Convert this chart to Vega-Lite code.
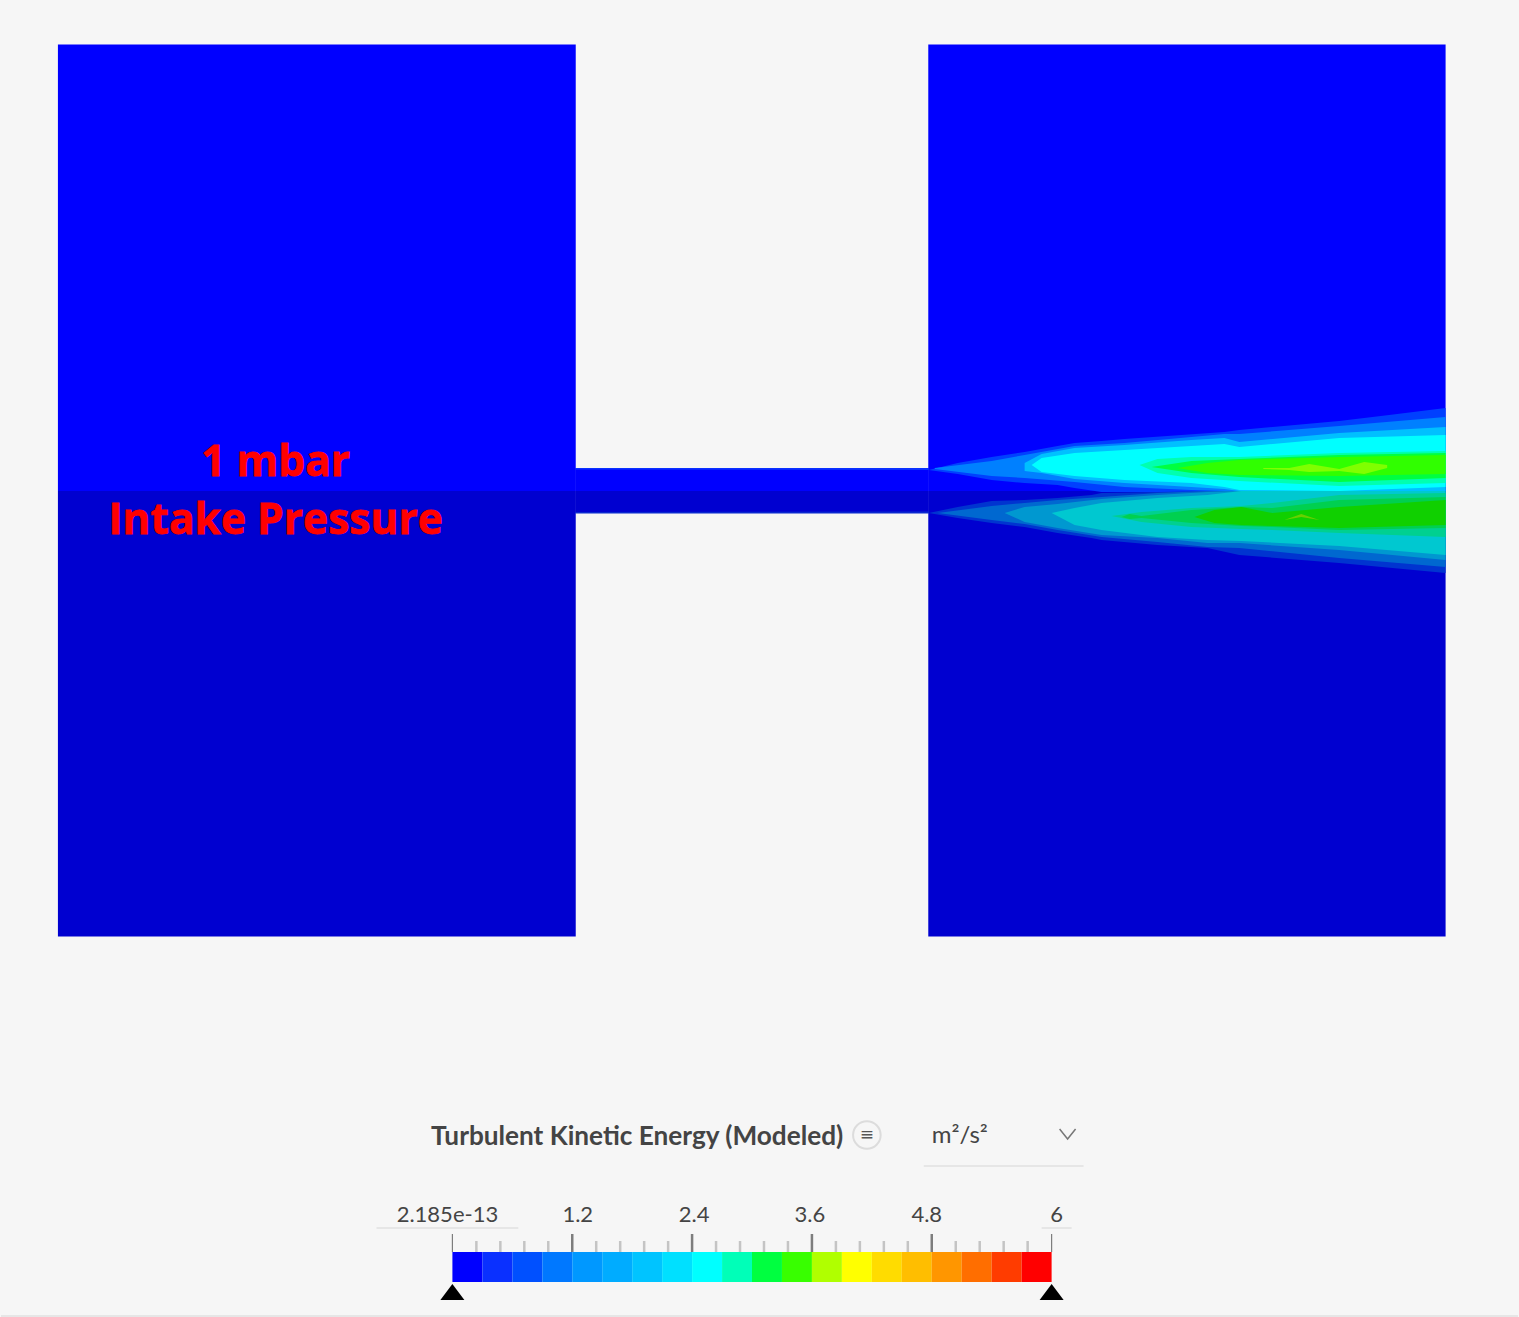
{"$schema":"https://vega.github.io/schema/vega-lite/v6.json","width":1519,"height":1317,"padding":0,"autosize":{"type":"fit","contains":"padding"},"background":"#f6f6f6","config":{"view":{"stroke":null}},"resolve":{"scale":{"x":"independent","color":"independent"}},
"datasets":{"geom":[
{"b":"inletHi","x":57,"y":44.5,"y2":491},{"b":"inletHi","x":575.5,"y":44.5,"y2":491},
{"b":"inletLo","x":57,"y":491,"y2":936.5},{"b":"inletLo","x":575.5,"y":491,"y2":936.5},
{"b":"slotHi","x":575,"y":468,"y2":491},{"b":"slotHi","x":929,"y":468,"y2":491},
{"b":"slotLo","x":575,"y":491,"y2":513},{"b":"slotLo","x":929,"y":491,"y2":513},
{"b":"outHi","x":928.5,"y":44.5,"y2":491},{"b":"outHi","x":1446.5,"y":44.5,"y2":491},
{"b":"outLo","x":928.5,"y":491,"y2":936.5},{"b":"outLo","x":1446.5,"y":491,"y2":936.5},
{"b":"wallHi","x":575,"y":468,"y2":469.5},{"b":"wallHi","x":929,"y":468,"y2":470},
{"b":"wallLo","x":575,"y":512,"y2":513.5},{"b":"wallLo","x":929,"y":511.5,"y2":513.5},
{"b":"U1","x":929,"y":470,"y2":470},{"b":"U1","x":958,"y":463,"y2":474},{"b":"U1","x":992,"y":457,"y2":480},{"b":"U1","x":1025,"y":452,"y2":483},{"b":"U1","x":1058,"y":446,"y2":485},{"b":"U1","x":1075,"y":443,"y2":488},{"b":"U1","x":1102,"y":441,"y2":492},{"b":"U1","x":1125,"y":439,"y2":492},{"b":"U1","x":1225,"y":432,"y2":492},{"b":"U1","x":1240,"y":430,"y2":492},{"b":"U1","x":1340,"y":421,"y2":492},{"b":"U1","x":1390,"y":415,"y2":492},{"b":"U1","x":1446.5,"y":408,"y2":492},
{"b":"U2","x":935,"y":468,"y2":469},{"b":"U2","x":992,"y":461,"y2":476},{"b":"U2","x":1025,"y":455,"y2":478},{"b":"U2","x":1075,"y":446,"y2":482},{"b":"U2","x":1125,"y":443,"y2":487},{"b":"U2","x":1192,"y":437,"y2":490},{"b":"U2","x":1225,"y":434,"y2":491},{"b":"U2","x":1240,"y":434,"y2":491},{"b":"U2","x":1340,"y":426,"y2":491},{"b":"U2","x":1446.5,"y":417,"y2":491},
{"b":"U3","x":1025,"y":463,"y2":471},{"b":"U3","x":1042,"y":454,"y2":473},{"b":"U3","x":1075,"y":448,"y2":479},{"b":"U3","x":1125,"y":445,"y2":483},{"b":"U3","x":1192,"y":440,"y2":487},{"b":"U3","x":1225,"y":438,"y2":489},{"b":"U3","x":1240,"y":442,"y2":491},{"b":"U3","x":1340,"y":433,"y2":491},{"b":"U3","x":1446.5,"y":427,"y2":491},
{"b":"U4","x":1032,"y":465,"y2":465},{"b":"U4","x":1042,"y":458,"y2":472},{"b":"U4","x":1075,"y":453,"y2":476},{"b":"U4","x":1125,"y":450,"y2":480},{"b":"U4","x":1192,"y":446,"y2":483},{"b":"U4","x":1225,"y":444,"y2":487},{"b":"U4","x":1240,"y":447,"y2":490},{"b":"U4","x":1340,"y":438,"y2":491},{"b":"U4","x":1446.5,"y":435,"y2":487},
{"b":"U5","x":1140,"y":465,"y2":465},{"b":"U5","x":1158,"y":459,"y2":473},{"b":"U5","x":1192,"y":457,"y2":478},{"b":"U5","x":1240,"y":457,"y2":481},{"b":"U5","x":1340,"y":453,"y2":486},{"b":"U5","x":1446.5,"y":451,"y2":483},
{"b":"U6","x":1152,"y":467,"y2":467},{"b":"U6","x":1192,"y":461,"y2":473},{"b":"U6","x":1240,"y":459,"y2":477},{"b":"U6","x":1340,"y":455,"y2":482},{"b":"U6","x":1446.5,"y":453,"y2":478},
{"b":"U7","x":1178,"y":468,"y2":468},{"b":"U7","x":1208,"y":463,"y2":473},{"b":"U7","x":1240,"y":460,"y2":475},{"b":"U7","x":1340,"y":457,"y2":476},{"b":"U7","x":1446.5,"y":455,"y2":474},
{"b":"U8","x":1264,"y":468,"y2":469},{"b":"U8","x":1290,"y":468,"y2":470},{"b":"U8","x":1310,"y":464,"y2":472},{"b":"U8","x":1340,"y":469,"y2":471},{"b":"U8","x":1365,"y":462,"y2":474},{"b":"U8","x":1388,"y":465,"y2":468},
{"b":"L1","x":929,"y":513,"y2":513},{"b":"L1","x":958,"y":507,"y2":518},{"b":"L1","x":992,"y":501,"y2":523},{"b":"L1","x":1025,"y":500,"y2":527},{"b":"L1","x":1058,"y":498,"y2":533},{"b":"L1","x":1092,"y":495,"y2":538},{"b":"L1","x":1102,"y":493,"y2":540},{"b":"L1","x":1158,"y":492,"y2":545},{"b":"L1","x":1208,"y":491,"y2":548},{"b":"L1","x":1240,"y":491,"y2":555},{"b":"L1","x":1340,"y":491,"y2":563},{"b":"L1","x":1446.5,"y":491,"y2":573},
{"b":"L2","x":938,"y":513,"y2":513},{"b":"L2","x":992,"y":506,"y2":520},{"b":"L2","x":1025,"y":503,"y2":524},{"b":"L2","x":1058,"y":500,"y2":530},{"b":"L2","x":1102,"y":497,"y2":537},{"b":"L2","x":1158,"y":493,"y2":542},{"b":"L2","x":1208,"y":491,"y2":547},{"b":"L2","x":1240,"y":491,"y2":548},{"b":"L2","x":1340,"y":491,"y2":558},{"b":"L2","x":1446.5,"y":491,"y2":567},
{"b":"L3","x":1005,"y":513,"y2":513},{"b":"L3","x":1025,"y":507,"y2":522},{"b":"L3","x":1058,"y":504,"y2":528},{"b":"L3","x":1102,"y":499,"y2":535},{"b":"L3","x":1158,"y":495,"y2":538},{"b":"L3","x":1208,"y":492,"y2":543},{"b":"L3","x":1240,"y":491,"y2":543},{"b":"L3","x":1340,"y":491,"y2":550},{"b":"L3","x":1446.5,"y":491,"y2":560},
{"b":"L4","x":1052,"y":513,"y2":513},{"b":"L4","x":1075,"y":508,"y2":525},{"b":"L4","x":1102,"y":503,"y2":530},{"b":"L4","x":1158,"y":498,"y2":537},{"b":"L4","x":1208,"y":495,"y2":540},{"b":"L4","x":1242,"y":491,"y2":541},{"b":"L4","x":1340,"y":491,"y2":546},{"b":"L4","x":1446.5,"y":491,"y2":555},
{"b":"L5","x":1112,"y":516,"y2":516},{"b":"L5","x":1142,"y":512,"y2":522},{"b":"L5","x":1192,"y":508,"y2":527},{"b":"L5","x":1242,"y":506,"y2":529},{"b":"L5","x":1273,"y":503,"y2":530},{"b":"L5","x":1340,"y":495,"y2":533},{"b":"L5","x":1446.5,"y":493,"y2":537},
{"b":"L6","x":1122,"y":517,"y2":517},{"b":"L6","x":1130,"y":514,"y2":519},{"b":"L6","x":1142,"y":516,"y2":518},{"b":"L6","x":1192,"y":510,"y2":523},{"b":"L6","x":1242,"y":507,"y2":526},{"b":"L6","x":1273,"y":508,"y2":527},{"b":"L6","x":1340,"y":500,"y2":530},{"b":"L6","x":1446.5,"y":497,"y2":528},
{"b":"L7","x":1195,"y":517,"y2":517},{"b":"L7","x":1215,"y":510,"y2":523},{"b":"L7","x":1242,"y":507,"y2":525},{"b":"L7","x":1273,"y":513,"y2":526},{"b":"L7","x":1340,"y":507,"y2":528},{"b":"L7","x":1446.5,"y":500,"y2":525},
{"b":"L8","x":1285,"y":520,"y2":520},{"b":"L8","x":1302,"y":514,"y2":517},{"b":"L8","x":1320,"y":520,"y2":520}
],
"bins":[{"v0":0,"v1":0.3,"k":"00"},{"v0":0.3,"v1":0.6,"k":"01"},{"v0":0.6,"v1":0.9,"k":"02"},{"v0":0.9,"v1":1.2,"k":"03"},{"v0":1.2,"v1":1.5,"k":"04"},{"v0":1.5,"v1":1.8,"k":"05"},{"v0":1.8,"v1":2.1,"k":"06"},{"v0":2.1,"v1":2.4,"k":"07"},{"v0":2.4,"v1":2.7,"k":"08"},{"v0":2.7,"v1":3.0,"k":"09"},{"v0":3.0,"v1":3.3,"k":"10"},{"v0":3.3,"v1":3.6,"k":"11"},{"v0":3.6,"v1":3.9,"k":"12"},{"v0":3.9,"v1":4.2,"k":"13"},{"v0":4.2,"v1":4.5,"k":"14"},{"v0":4.5,"v1":4.8,"k":"15"},{"v0":4.8,"v1":5.1,"k":"16"},{"v0":5.1,"v1":5.4,"k":"17"},{"v0":5.4,"v1":5.7,"k":"18"},{"v0":5.7,"v1":6.0,"k":"19"}]},
"layer":[
{"data":{"name":"geom"},"mark":{"type":"area","interpolate":"linear","clip":false},"encoding":{"x":{"field":"x","type":"quantitative","axis":null,"scale":{"domain":[0,1519],"nice":false,"zero":false}},"y":{"field":"y","type":"quantitative","axis":null,"stack":null,"scale":{"domain":[1317,0],"nice":false,"zero":false}},"y2":{"field":"y2"},"color":{"field":"b","type":"nominal","legend":null,"sort":null,"scale":{"domain":["inletHi","inletLo","slotHi","slotLo","outHi","outLo","wallHi","wallLo","U1","U2","U3","U4","U5","U6","U7","U8","L1","L2","L3","L4","L5","L6","L7","L8"],"range":["#0000ff","#0000d0","#0000ff","#0000d0","#0000ff","#0000d0","#0a30ff","#0a28d0","#0040ff","#0080ff","#00c0ff","#00ffff","#00ffb0","#00ff40","#30ff00","#80ff00","#0034d0","#0068d0","#0098d0","#00c8d0","#00d090","#00d050","#10d000","#68d000"]}}}},
{"data":{"name":"bins"},"mark":{"type":"rect"},"encoding":{"x":{"field":"v0","type":"quantitative","axis":null,"scale":{"domain":[-4.52,10.67],"nice":false,"zero":false}},"x2":{"field":"v1"},"y":{"datum":1252,"type":"quantitative","axis":null,"scale":{"domain":[1317,0],"nice":false,"zero":false}},"y2":{"datum":1282},"color":{"field":"k","type":"ordinal","legend":null,"scale":{"range":["#0000ff","#0a30ff","#0050ff","#0078ff","#0098ff","#00acff","#00c4ff","#00e0ff","#00ffff","#00ffb8","#00ff40","#38ff00","#b0ff00","#ffff00","#ffdc00","#ffbe00","#ff9600","#ff6e00","#ff3c00","#ff0000"]}}}},
{"data":{"values":[{"v":0.24},{"v":0.48},{"v":0.72},{"v":0.96},{"v":1.44},{"v":1.68},{"v":1.92},{"v":2.16},{"v":2.64},{"v":2.88},{"v":3.12},{"v":3.36},{"v":3.84},{"v":4.08},{"v":4.32},{"v":4.56},{"v":5.04},{"v":5.28},{"v":5.52},{"v":5.76}]},"mark":{"type":"rule","color":"#c4c4c4","strokeWidth":2.5},"encoding":{"x":{"field":"v","type":"quantitative","axis":null,"scale":{"domain":[-4.52,10.67],"nice":false,"zero":false}},"y":{"datum":1241,"type":"quantitative","axis":null,"scale":{"domain":[1317,0],"nice":false,"zero":false}},"y2":{"datum":1252}}},
{"data":{"values":[{"v":1.2},{"v":2.4},{"v":3.6},{"v":4.8}]},"mark":{"type":"rule","color":"#7d7d7d","strokeWidth":2.5},"encoding":{"x":{"field":"v","type":"quantitative","axis":null,"scale":{"domain":[-4.52,10.67],"nice":false,"zero":false}},"y":{"datum":1234,"type":"quantitative","axis":null,"scale":{"domain":[1317,0],"nice":false,"zero":false}},"y2":{"datum":1252}}},
{"data":{"values":[{"v":0},{"v":6}]},"mark":{"type":"rule","color":"#7d7d7d","strokeWidth":1.2},"encoding":{"x":{"field":"v","type":"quantitative","axis":null,"scale":{"domain":[-4.52,10.67],"nice":false,"zero":false}},"y":{"datum":1234,"type":"quantitative","axis":null,"scale":{"domain":[1317,0],"nice":false,"zero":false}},"y2":{"datum":1252}}},
{"data":{"values":[{"v":0},{"v":6}]},"mark":{"type":"point","filled":true,"opacity":1,"color":"#000000","shape":"M0,-1L-1.5,1L1.5,1Z","size":256},"encoding":{"x":{"field":"v","type":"quantitative","axis":null,"scale":{"domain":[-4.52,10.67],"nice":false,"zero":false}},"y":{"datum":1292,"type":"quantitative","axis":null,"scale":{"domain":[1317,0],"nice":false,"zero":false}}}},
{"data":{"values":[{"x":376,"x2":518,"y":1228},{"x":1042,"x2":1072,"y":1228},{"x":924,"x2":1084,"y":1166},{"x":0,"x2":1519,"y":1316}]},"mark":{"type":"rule","color":"#e0e0e0","strokeWidth":1.5},"encoding":{"x":{"field":"x","type":"quantitative","axis":null,"scale":{"domain":[0,1519],"nice":false,"zero":false}},"x2":{"field":"x2"},"y":{"field":"y","type":"quantitative","axis":null,"scale":{"domain":[1317,0],"nice":false,"zero":false}}}},
{"data":{"values":[{"x":1060,"y":1129},{"x":1068,"y":1139},{"x":1076,"y":1129}]},"mark":{"type":"line","color":"#777777","strokeWidth":1.5},"encoding":{"x":{"field":"x","type":"quantitative","axis":null,"scale":{"domain":[0,1519],"nice":false,"zero":false}},"y":{"field":"y","type":"quantitative","axis":null,"scale":{"domain":[1317,0],"nice":false,"zero":false}}}},
{"data":{"values":[{"x":867,"y":1135}]},"mark":{"type":"point","shape":"circle","size":760,"filled":false,"color":"#dcdcdc","strokeWidth":2,"opacity":1},"encoding":{"x":{"field":"x","type":"quantitative","axis":null,"scale":{"domain":[0,1519],"nice":false,"zero":false}},"y":{"field":"y","type":"quantitative","axis":null,"scale":{"domain":[1317,0],"nice":false,"zero":false}}}},
{"data":{"values":[{"x":867,"y":1135,"t":"≡"}]},"mark":{"type":"text","font":"DejaVu Sans","fontSize":17,"color":"#555555","align":"center","baseline":"middle"},"encoding":{"text":{"field":"t"},"x":{"field":"x","type":"quantitative","axis":null,"scale":{"domain":[0,1519],"nice":false,"zero":false}},"y":{"field":"y","type":"quantitative","axis":null,"scale":{"domain":[1317,0],"nice":false,"zero":false}}}},
{"data":{"values":[{"x":637,"y":1137,"t":"Turbulent Kinetic Energy (Modeled)"}]},"mark":{"type":"text","font":"Lato","fontWeight":"bold","fontSize":26.2,"color":"#444444","align":"center","baseline":"middle"},"encoding":{"text":{"field":"t"},"x":{"field":"x","type":"quantitative","axis":null,"scale":{"domain":[0,1519],"nice":false,"zero":false}},"y":{"field":"y","type":"quantitative","axis":null,"scale":{"domain":[1317,0],"nice":false,"zero":false}}}},
{"data":{"values":[{"x":932,"y":1136,"t":"m²/s²"}]},"mark":{"type":"text","font":"Lato","fontSize":24,"color":"#444444","align":"left","baseline":"middle"},"encoding":{"text":{"field":"t"},"x":{"field":"x","type":"quantitative","axis":null,"scale":{"domain":[0,1519],"nice":false,"zero":false}},"y":{"field":"y","type":"quantitative","axis":null,"scale":{"domain":[1317,0],"nice":false,"zero":false}}}},
{"data":{"values":[{"x":447,"t":"2.185e-13"},{"x":577.5,"t":"1.2"},{"x":694,"t":"2.4"},{"x":810,"t":"3.6"},{"x":927,"t":"4.8"},{"x":1057,"t":"6"}]},"mark":{"type":"text","font":"Lato","fontSize":22,"color":"#444444","align":"center","baseline":"middle"},"encoding":{"text":{"field":"t"},"x":{"field":"x","type":"quantitative","axis":null,"scale":{"domain":[0,1519],"nice":false,"zero":false}},"y":{"datum":1215,"type":"quantitative","axis":null,"scale":{"domain":[1317,0],"nice":false,"zero":false}}}},
{"data":{"values":[{"x":275,"y":463,"t":"1 mbar"},{"x":275,"y":521,"t":"Intake Pressure"}]},"mark":{"type":"text","font":"Open Sans","fontWeight":"bold","fontSize":42.5,"color":"#ff0000","stroke":"#ff0000","strokeWidth":0.8,"align":"center","baseline":"middle"},"encoding":{"text":{"field":"t"},"x":{"field":"x","type":"quantitative","axis":null,"scale":{"domain":[0,1519],"nice":false,"zero":false}},"y":{"field":"y","type":"quantitative","axis":null,"scale":{"domain":[1317,0],"nice":false,"zero":false}}}}
]}
